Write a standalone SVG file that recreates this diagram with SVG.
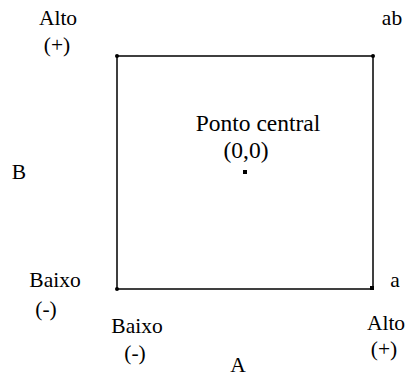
<svg xmlns="http://www.w3.org/2000/svg" width="406" height="378" viewBox="0 0 406 378">
<style>
text{font-family:"Liberation Serif","Times New Roman",serif;font-size:21.5px;fill:#000;text-anchor:middle}
.big{font-size:23.5px}
</style>
<rect width="406" height="378" fill="#fff"/>
<g id="connectors">
<rect x="117" y="56" width="256" height="233" fill="none" stroke="#000" stroke-width="1.5"/>
</g>
<g id="corners">
<circle cx="117" cy="56" r="2"/>
<circle cx="373" cy="56" r="2"/>
<circle cx="117" cy="289" r="2"/>
<rect x="370" y="286" width="4" height="4"/>
</g>
<g id="center"><rect x="243" y="170" width="4" height="4"/><text class="big" x="258" y="131">Ponto central</text><text class="big" x="246" y="158">(0,0)</text></g>
<g id="topleft"><text x="58" y="25">Alto</text><text x="57" y="52">(+)</text></g>
<g id="topright"><text x="392" y="25">ab</text></g>
<g id="B"><text x="19" y="179">B</text></g>
<g id="bottomleft"><text x="55" y="287">Baixo</text><text x="46" y="316">(-)</text></g>
<g id="bottomA"><text x="137" y="333">Baixo</text><text x="135" y="360">(-)</text></g>
<g id="A"><text x="238" y="372">A</text></g>
<g id="a"><text x="395" y="287">a</text></g>
<g id="bottomright"><text x="386" y="330">Alto</text><text x="384" y="356">(+)</text></g>
</svg>
